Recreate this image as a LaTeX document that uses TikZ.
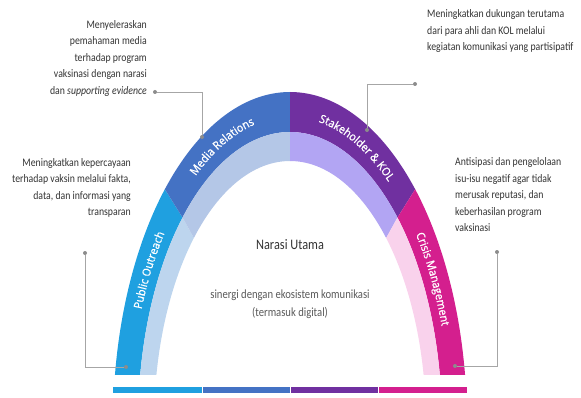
\documentclass[tikz,border=0pt]{standalone}
\usepackage{fontspec}
\setmainfont{Carlito}[FakeStretch=0.85]
\newfontfamily\archfont{Open Sans}[FakeStretch=0.93, FakeBold=1]
\usepackage{tikz}
\usetikzlibrary{calc,decorations.text}

\definecolor{poDark}{HTML}{1FA0E0}
\definecolor{poLight}{HTML}{BDD5EE}
\definecolor{mrDark}{HTML}{4472C4}
\definecolor{mrLight}{HTML}{B4C7E7}
\definecolor{skDark}{HTML}{7030A0}
\definecolor{skLight}{HTML}{B2A5F3}
\definecolor{cmDark}{HTML}{D41F8E}
\definecolor{cmLight}{HTML}{F9D2EC}
\definecolor{notegray}{HTML}{333333}
\definecolor{subgray}{HTML}{595959}
\definecolor{linegray}{HTML}{A6A6A6}
\definecolor{dotgray}{HTML}{8C8C8C}

\begin{document}
\begin{tikzpicture}[x=1pt, y=1pt,
		note/.style={font=\fontsize{11.5}{16.5}\selectfont, text=notegray, inner sep=0pt},
		dot/.style={circle, fill=dotgray, inner sep=0pt, minimum size=4pt},
		link/.style={draw=linegray, line width=0.7pt},
		archlabel/.style={decorate, decoration={text along path, text align=center,
				text={|\archfont\fontsize{11.5}{13}\selectfont\color{white}|#1}}}]
			
			\useasboundingbox (0,0) rectangle (581,397);
			\coordinate (c) at (290,-27);
			
			% arch bands
			\begin{scope}
				\clip (0,23) rectangle (581,397);
				\foreach \ta/\tb/\dk/\lt in {180/135/poDark/poLight, 135/90/mrDark/mrLight, 90/45/skDark/skLight, 45/0/cmDark/cmLight} {
					\fill[fill=\dk] ($(c)+(\ta:177pt and 332pt)$)
					arc[start angle=\ta, end angle=\tb, x radius=177pt, y radius=332pt]
					-- ($(c)+(\tb:152pt and 292pt)$)
					arc[start angle=\tb, end angle=\ta, x radius=152pt, y radius=292pt] -- cycle;
					\fill[fill=\lt] ($(c)+(\ta:152pt and 292pt)$)
					arc[start angle=\ta, end angle=\tb, x radius=152pt, y radius=292pt]
					-- ($(c)+(\tb:136pt and 263pt)$)
					arc[start angle=\tb, end angle=\ta, x radius=136pt, y radius=263pt] -- cycle;
				}
			\end{scope}
			
			% labels on the arch
			\path[archlabel={Public Outreach}] ($(c)+(170:160pt and 307pt)$)
			arc[start angle=170, end angle=127, x radius=160pt, y radius=307pt];
			\path[archlabel={Media Relations}] ($(c)+(135:160pt and 307pt)$)
			arc[start angle=135, end angle=90, x radius=160pt, y radius=307pt];
			\path[archlabel={Stakeholder {\&} KOL}] ($(c)+(90:160pt and 307pt)$)
			arc[start angle=90, end angle=45, x radius=160pt, y radius=307pt];
			\path[archlabel={Crisis Management}] ($(c)+(46:160pt and 307pt)$)
			arc[start angle=46, end angle=12, x radius=160pt, y radius=307pt];
			
			% bottom bar
			\foreach \xa/\xb/\col in {113/201.5/poDark, 202.5/289.5/mrDark, 290.5/378/skDark, 379/467/cmDark}
			\fill[fill=\col] (\xa,4) rectangle (\xb,10);
			
			% centre text
			\node[font=\fontsize{14.5}{18}\selectfont, text=notegray] (title) at (290,152) {Narasi Utama};
			\node[font=\fontsize{12.5}{18}\selectfont, text=subgray, align=center] (sub) at (290,93)
			{sinergi dengan ekosistem komunikasi\\(termasuk digital)};
			
			% notes
			\node[note, align=right, anchor=east] (mrnote) at (147,339)
			{Menyeleraskan\\pemahaman media\\terhadap program\\vaksinasi dengan narasi\\dan \textit{supporting evidence}};
			\node[note, align=left, anchor=west] (sknote) at (427,366)
			{Meningkatkan dukungan terutama\\dari para ahli dan KOL melalui\\kegiatan komunikasi yang partisipatif};
			\node[note, align=right, anchor=east] (ponote) at (131,209)
			{Meningkatkan kepercayaan\\terhadap vaksin melalui fakta,\\data, dan informasi yang\\transparan};
			\node[note, align=left, anchor=west] (cmnote) at (455,202)
			{Antisipasi dan pengelolaan\\isu-isu negatif agar tidak\\merusak reputasi, dan\\keberhasilan program\\vaksinasi};
			
			% callout ends
			\node[dot] (m1) at (155,305) {};
			\node[dot] (m2) at (202,260) {};
			\node[dot] (s1) at (415,313) {};
			\node[dot] (s2) at (367,267) {};
			\node[dot] (p1) at (85,144) {};
			\node[dot] (p2) at (126,30) {};
			\node[dot] (c1) at (497,145) {};
			\node[dot] (c2) at (455,31) {};
			
			\draw[link] (m1) -| (m2);
			\draw[link] (s1) -| (s2);
			\draw[link] (p1) |- (p2);
			\draw[link] (c1) |- (c2);
			
\end{tikzpicture}
\end{document}
